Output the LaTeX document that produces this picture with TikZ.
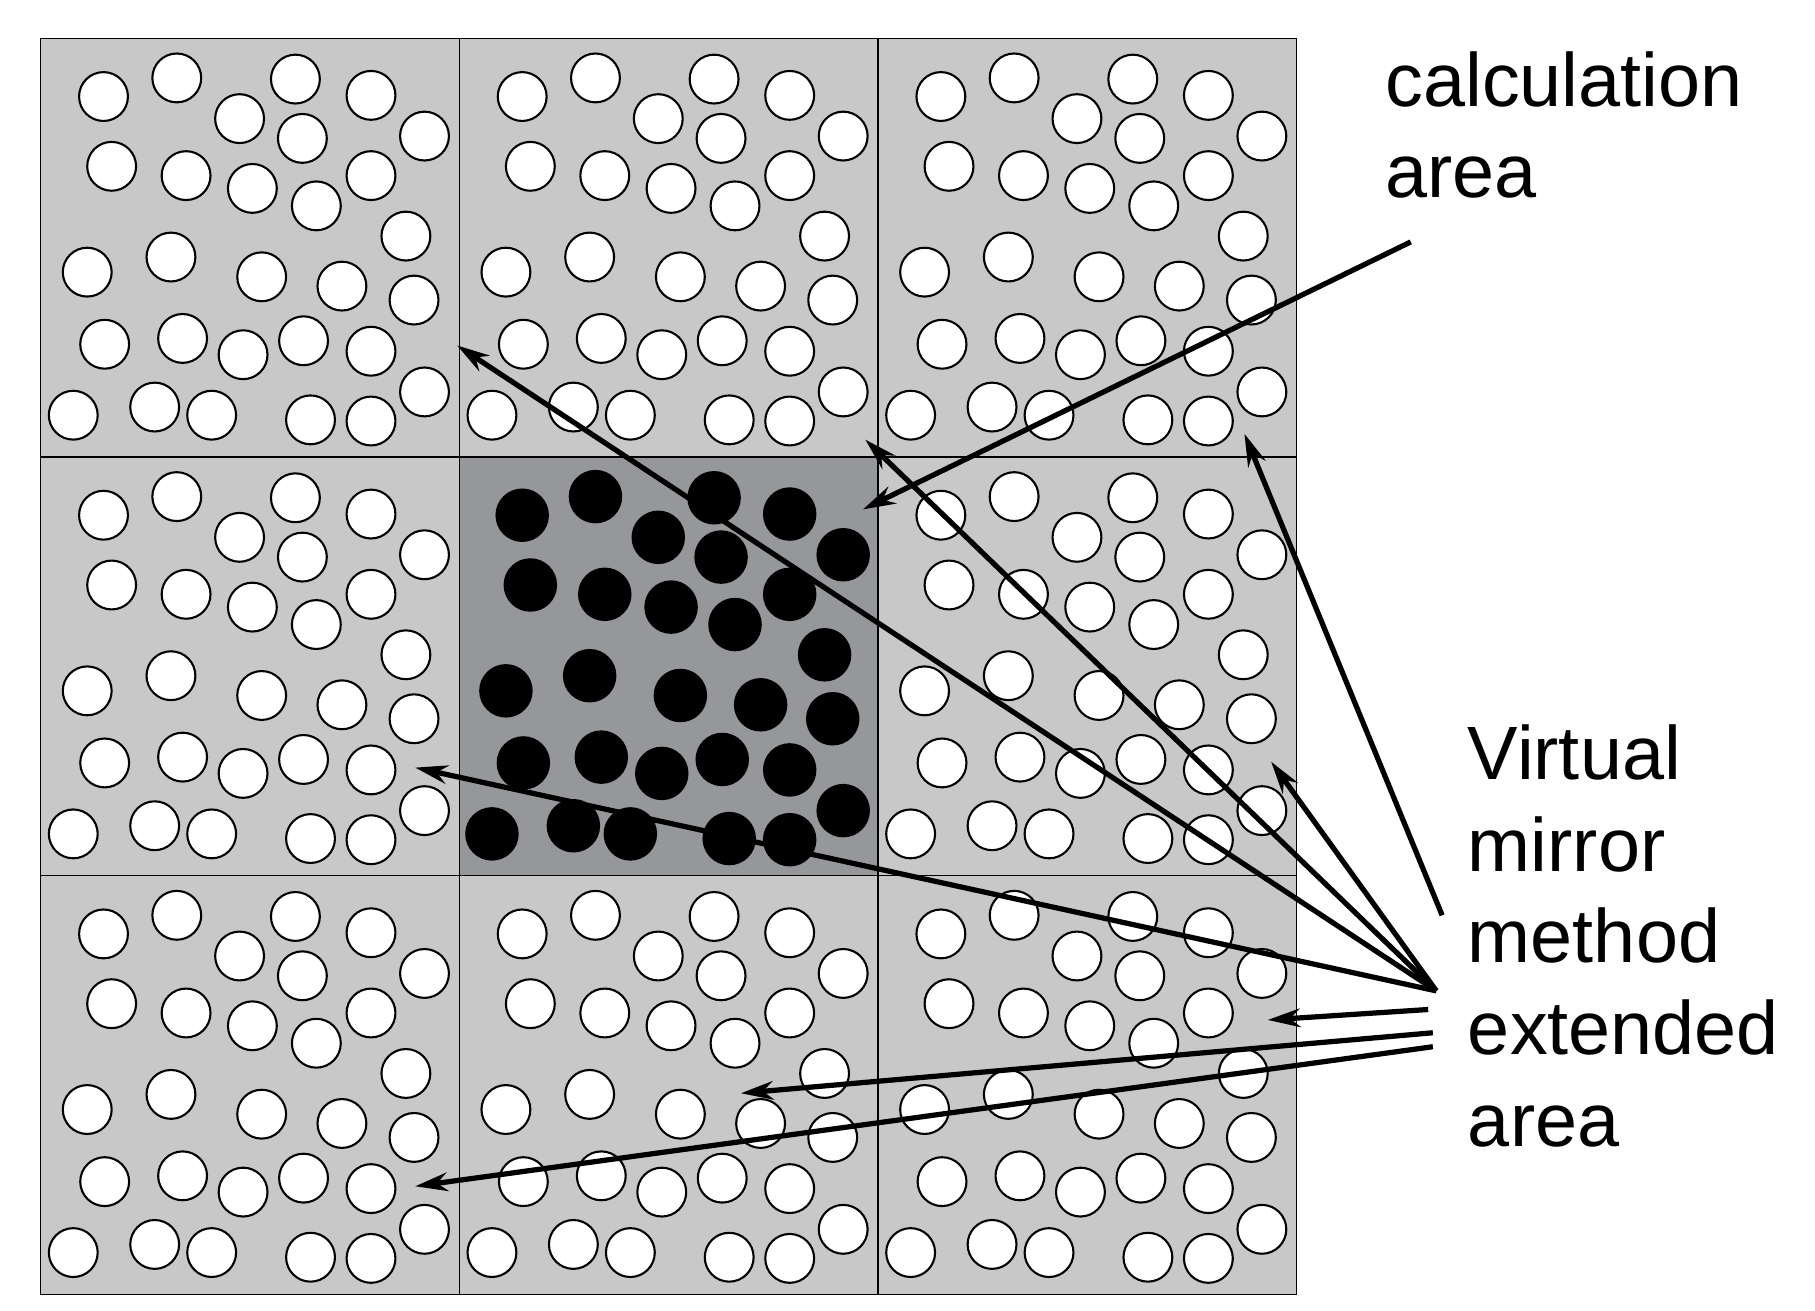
\documentclass[tikz,border=0pt]{standalone}
\usepackage{fontspec}
\setmainfont{Liberation Sans}
\usetikzlibrary{arrows.meta}
\begin{document}
\begin{tikzpicture}[x=1pt,y=-1pt,
  cellbox/.style={fill=cellgray,draw=black,line width=1.2pt},
  wdot/.style={fill=white,draw=black,line width=1.8pt},
  bdot/.style={fill=black},
  arr/.style={-{Stealth[length=28pt,width=16pt]},line width=4.5pt},
  lbl/.style={anchor=base west,font=\fontsize{65}{79}\selectfont,inner sep=0pt}]
\definecolor{cellgray}{HTML}{C8C8C8}
\definecolor{centergray}{HTML}{96979A}
\useasboundingbox (0,0) rectangle (1560.6,1127.2);
\def\pts{54/50,117/34,171/69,219/35,284/49,225/86,330/84,61/110,125/118,182/129,237/144,284/118,314/170,40/201,112/188,190/205,259/213,321/225,55/263,122/258,174/272,226/260,284/269,330/304,28/324,98/317,147/324,232/328,284/329}
\foreach \i in {0,1,2}{\foreach \j in {0,1,2}{
  \pgfmathsetmacro{\ox}{35+360*\i}\pgfmathsetmacro{\oy}{33+360*\j}
  \ifnum\i=1 \ifnum\j=1
    \fill[centergray,draw=black,line width=1.2pt] (\ox,\oy) rectangle ++(360,360);
    \foreach \p/\q in \pts {\fill[bdot] (\ox+\p,\oy+\q) circle (23);}
  \else
    \path[cellbox] (\ox,\oy) rectangle ++(360,360);
    \foreach \p/\q in \pts {\path[wdot] (\ox+\p,\oy+\q) circle (21);}
  \fi\else
    \path[cellbox] (\ox,\oy) rectangle ++(360,360);
    \foreach \p/\q in \pts {\path[wdot] (\ox+\p,\oy+\q) circle (21);}
  \fi
}}
\draw[line width=1.2pt] (35,33) rectangle (1115,1113);
\node[lbl] (calc1) at (1191,92) {calculation};
\node[lbl] (calc2) at (1191,170) {area};
\node[lbl] (vm1) at (1262,670) {Virtual};
\node[lbl] (vm2) at (1262,749) {mirror};
\node[lbl] (vm3) at (1262,828) {method};
\node[lbl] (vm4) at (1262,907) {extended};
\node[lbl] (vm5) at (1262,986) {area};
\coordinate (cs) at (1213,208);
\coordinate (ct) at (742,438);
\draw[arr] (cs) -- (ct);
\coordinate (s1) at (1240,787);
\coordinate (s2) at (1235,852);
\coordinate (s3) at (1228,868);
\coordinate (s4) at (1232,888);
\coordinate (s5) at (1232,900);
\coordinate (t1) at (1070,373);
\coordinate (t2) at (393,297);
\coordinate (t3) at (744,378);
\coordinate (t4) at (1093,655);
\coordinate (t5) at (357,660);
\coordinate (t6) at (1090,877);
\coordinate (t7) at (637,940);
\coordinate (t8) at (357,1020);
\draw[arr] (s1) -- (t1);
\draw[arr] (s2) -- (t2);
\draw[arr] (s2) -- (t3);
\draw[arr] (s2) -- (t4);
\draw[arr] (s2) -- (t5);
\draw[arr] (s3) -- (t6);
\draw[arr] (s4) -- (t7);
\draw[arr] (s5) -- (t8);
\end{tikzpicture}
\end{document}
